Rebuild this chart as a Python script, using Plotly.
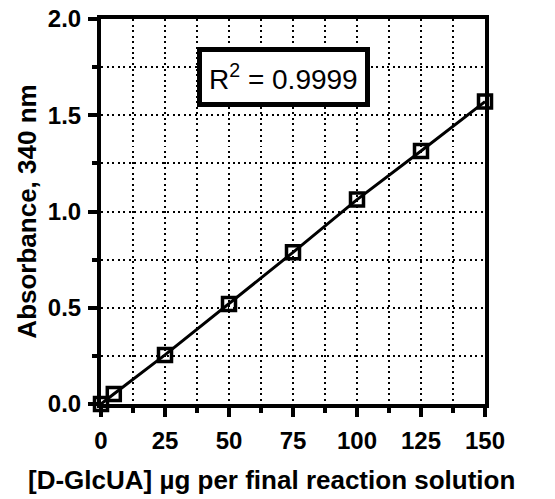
import plotly.graph_objects as go

# Data
glcua_ug = [0, 5, 25, 50, 75, 100, 125, 150]
absorbance = [0.0, 0.052, 0.255, 0.52, 0.788, 1.062, 1.314, 1.571]
r2_text = "R<sup>2</sup> = 0.9999"
x_title = "[D-GlcUA] µg per final reaction solution"
y_title = "Absorbance, 340 nm"

FONT = "Arial, Liberation Sans, sans-serif"
GRID_DASH = "2px,3.5px"

fig = go.Figure()
fig.add_trace(go.Scatter(
    x=glcua_ug, y=absorbance, mode="lines+markers",
    line=dict(color="black", width=3),
    marker=dict(symbol="square-open", size=13, color="black", line=dict(width=3.5, color="black")),
    cliponaxis=False, showlegend=False,
))

fig.add_annotation(
    x=71.3, y=1.70, xref="x", yref="y", text=r2_text, showarrow=False,
    font=dict(family=FONT, size=28, color="black"),
    bgcolor="white", bordercolor="black", borderwidth=5, borderpad=7,
)

# x-axis title (placed as an annotation so it can sit where the reference has it)
fig.add_annotation(
    x=0.443, y=-0.198, xref="paper", yref="paper", text=f"<b>{x_title}</b>",
    showarrow=False, xanchor="center", yanchor="middle",
    font=dict(family=FONT, size=26, color="black"),
)

axis_common = dict(
    showline=True, linecolor="black", linewidth=4, mirror=True,
    ticks="outside", ticklen=9, tickwidth=4, tickcolor="black",
    showgrid=True, gridcolor="black", gridwidth=2, griddash=GRID_DASH,
    zeroline=False,
    tickfont=dict(family=FONT, size=24, color="black", weight="bold"),
)

fig.update_xaxes(
    range=[0, 150], tickvals=[0, 25, 50, 75, 100, 125, 150],
    minor=dict(dtick=12.5, tick0=0, ticks="outside", ticklen=5, tickwidth=4, tickcolor="black",
               showgrid=True, gridcolor="black", gridwidth=2, griddash=GRID_DASH),
    ticklabelstandoff=3,
    **axis_common,
)
fig.update_yaxes(
    range=[0, 2], tickvals=[0, 0.5, 1.0, 1.5, 2.0], tickformat=".1f",
    minor=dict(dtick=0.25, tick0=0, ticks="outside", ticklen=5, tickwidth=4, tickcolor="black",
               showgrid=True, gridcolor="black", gridwidth=2, griddash=GRID_DASH),
    title=dict(text=y_title, font=dict(family=FONT, size=26, color="black", weight="bold"), standoff=5),
    ticklabelstandoff=2,
    **axis_common,
)

fig.update_layout(
    width=555, height=499,
    margin=dict(l=101, r=70, t=19, b=95, autoexpand=False),
    plot_bgcolor="white", paper_bgcolor="white",
)

fig.write_html("out.html", config={"displayModeBar": False},
               post_script="document.body.style.margin='0';")
